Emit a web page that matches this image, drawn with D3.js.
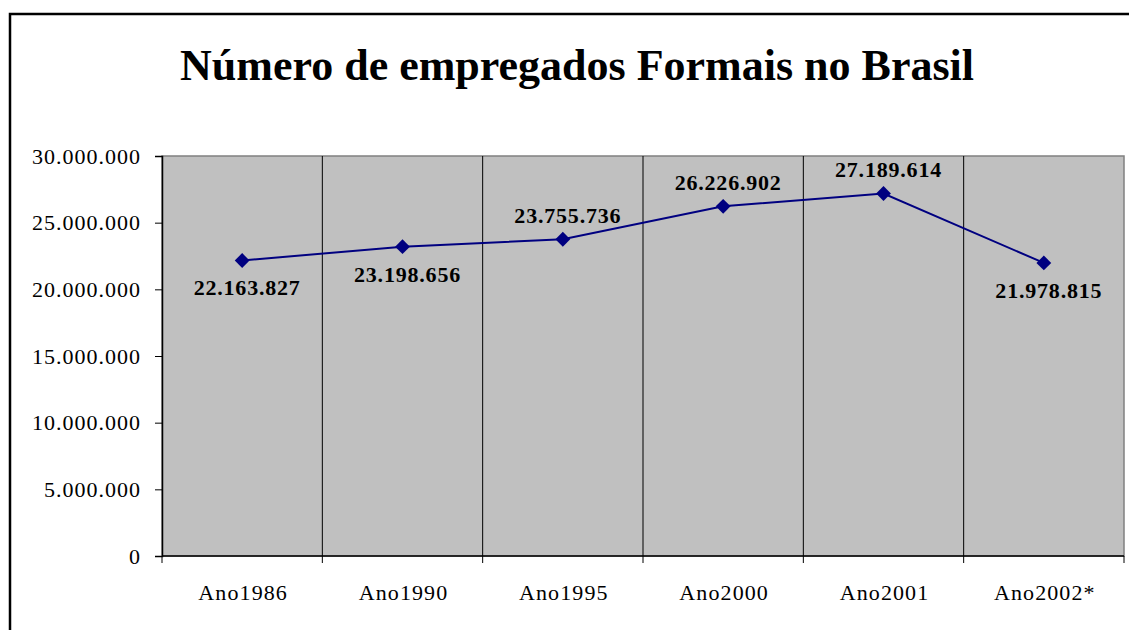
<!DOCTYPE html>
<html>
<head>
<meta charset="utf-8">
<script src="https://cdn.jsdelivr.net/npm/d3@7"></script>
<style>
  body { margin: 0; background: #fff; }
  text { font-family: "Liberation Serif", "Times New Roman", serif; }
</style>
</head>
<body>
<div id="svg-chart"></div>
<script>
// chart data
var categories = ["Ano1986", "Ano1990", "Ano1995", "Ano2000", "Ano2001", "Ano2002*"];
var values = [22163827, 23198656, 23755736, 26226902, 27189614, 21978815];
var labelAbove = [false, false, true, true, true, false];
var yTicks = [0, 5000000, 10000000, 15000000, 20000000, 25000000, 30000000];
var title = "Número de empregados Formais no Brasil";

var svgWidth = 1129, svgHeight = 630;
var chartMargin = { top: 156, left: 162, right: 5, bottom: 74 };
var chartWidth = svgWidth - chartMargin.left - chartMargin.right;
var chartHeight = svgHeight - chartMargin.top - chartMargin.bottom;

var svg = d3.select("#svg-chart").append("svg")
    .attr("width", svgWidth)
    .attr("height", svgHeight);

// outer frame
svg.append("rect")
    .attr("x", 10).attr("y", 14)
    .attr("width", svgWidth + 20).attr("height", svgHeight + 20)
    .attr("fill", "none").attr("stroke", "#000").attr("stroke-width", 2.5);

svg.append("text")
    .attr("x", 577).attr("y", 80)
    .attr("text-anchor", "middle")
    .style("font-size", "44px").style("font-weight", "bold")
    .text(title);

var chartGroup = svg.append("g")
    .attr("transform", `translate(${chartMargin.left}, ${chartMargin.top})`);

var xScale = d3.scaleBand().domain(categories).range([0, chartWidth]);
var yScale = d3.scaleLinear().domain([0, 30000000]).range([chartHeight, 0]);

// plot area
chartGroup.append("rect")
    .attr("width", chartWidth).attr("height", chartHeight)
    .attr("fill", "#c0c0c0").attr("stroke", "#808080").attr("stroke-width", 1.5);

// vertical gridlines at category boundaries
chartGroup.selectAll(".vgrid")
    .data(categories.slice(1))
    .enter().append("line")
    .attr("x1", d => xScale(d)).attr("x2", d => xScale(d))
    .attr("y1", 0).attr("y2", chartHeight)
    .attr("stroke", "#000").attr("stroke-width", 1);

var fmt = d3.formatLocale({ decimal: ",", thousands: ".", grouping: [3], currency: ["R$", ""] }).format(",d");

var yAxis = d3.axisLeft(yScale).tickValues(yTicks).tickFormat(fmt).tickSize(7).tickPadding(14);
var yg = chartGroup.append("g").call(yAxis);
yg.select(".domain").attr("stroke", "#000").attr("stroke-width", 1.5);
yg.selectAll("text").style("font-size", "22px").style("letter-spacing", "1px").attr("fill", "#000");

// x axis with ticks at category boundaries
var xAxisG = chartGroup.append("g").attr("transform", `translate(0, ${chartHeight})`);
xAxisG.append("line").attr("x1", 0).attr("x2", chartWidth)
    .attr("stroke", "#000").attr("stroke-width", 1.5);
var bounds = categories.map(d => xScale(d)).concat([chartWidth]);
xAxisG.selectAll(".xtick").data(bounds).enter().append("line")
    .attr("x1", d => d).attr("x2", d => d).attr("y1", 0).attr("y2", 7)
    .attr("stroke", "#000").attr("stroke-width", 1);
xAxisG.selectAll(".xlabel").data(categories).enter().append("text")
    .attr("x", d => xScale(d) + xScale.bandwidth() / 2 + 1)
    .attr("y", 44)
    .attr("text-anchor", "middle")
    .style("font-size", "22px").style("letter-spacing", "1.1px")
    .text(d => d);

var cx = (d, i) => xScale(categories[i]) + xScale.bandwidth() / 2;

var line = d3.line()
    .x((d, i) => cx(d, i))
    .y(d => yScale(d));

chartGroup.append("path")
    .datum(values)
    .attr("d", line)
    .attr("fill", "none").attr("stroke", "#000080").attr("stroke-width", 2);

chartGroup.selectAll(".marker")
    .data(values).enter().append("path")
    .attr("d", d3.symbol().type(d3.symbolDiamond2).size(140))
    .attr("transform", (d, i) => `translate(${cx(d, i)}, ${yScale(d)})`)
    .attr("fill", "#000080");

chartGroup.selectAll(".vlabel")
    .data(values).enter().append("text")
    .attr("x", (d, i) => cx(d, i) + 5)
    .attr("y", (d, i) => yScale(d) + (labelAbove[i] ? -16 : 35))
    .attr("text-anchor", "middle")
    .style("font-size", "22px").style("font-weight", "bold").style("letter-spacing", "0.8px")
    .text(d => fmt(d));
</script>
</body>
</html>
